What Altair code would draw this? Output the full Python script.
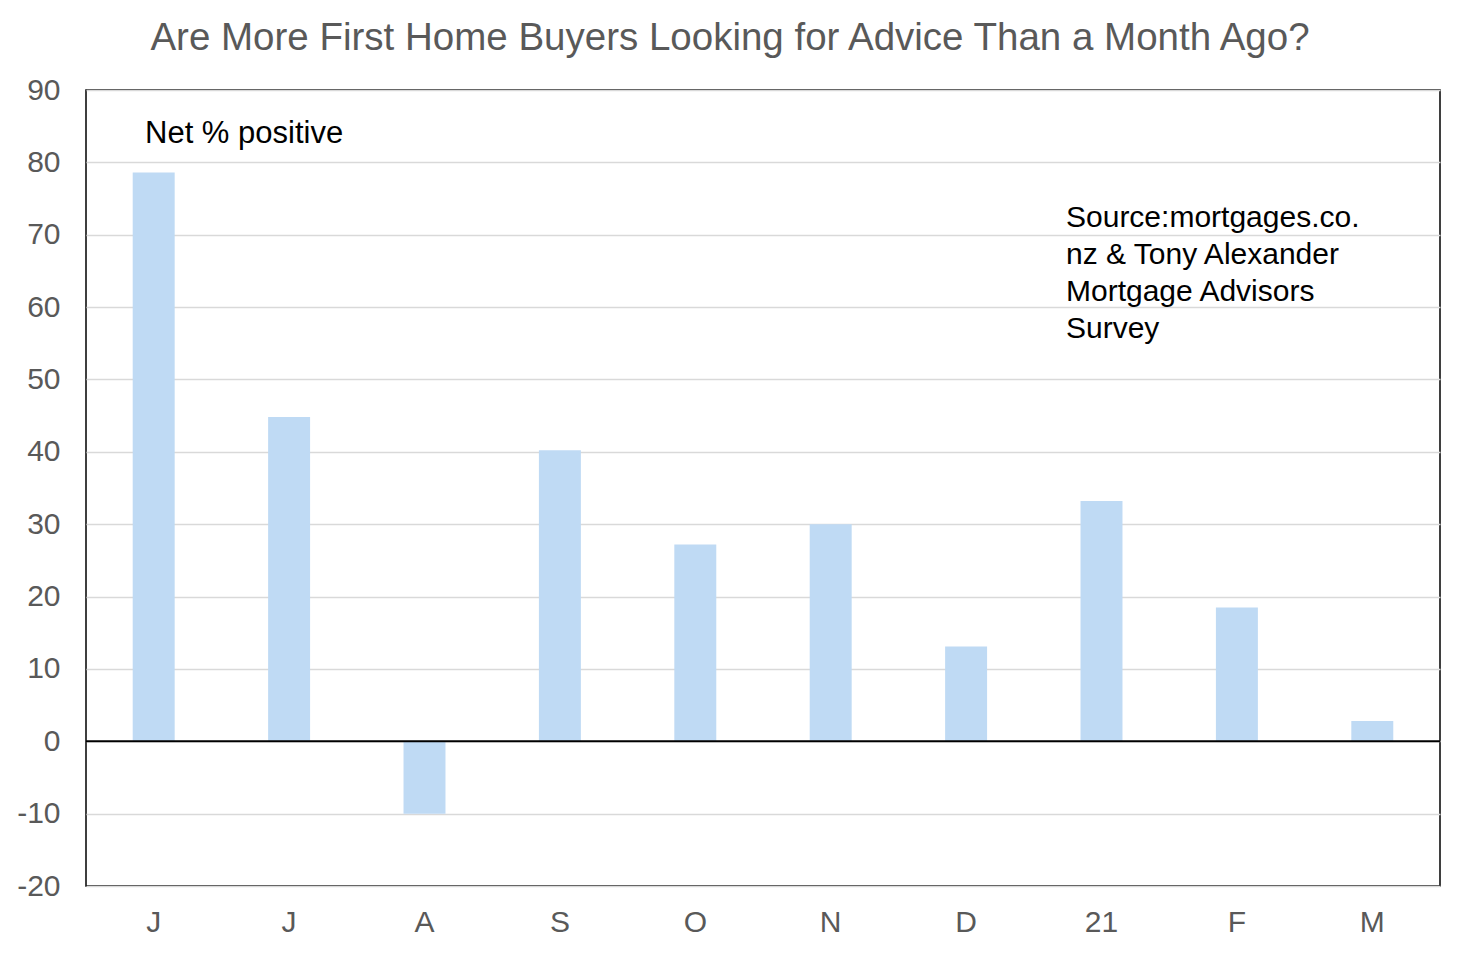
import altair as alt
import pandas as pd

months = ["J", "J", "A", "S", "O", "N", "D", "21", "F", "M"]
values = [78.6, 44.8, -10.0, 40.2, 27.2, 30.0, 13.1, 33.2, 18.5, 2.8]
keys = [str(i) for i in range(len(months))]
y_ticks = list(range(-20, 91, 10))

title_text = "Are More First Home Buyers Looking for Advice Than a Month Ago?"
note_text = "Net % positive"
source_lines = ["Source:mortgages.co.", "nz & Tony Alexander", "Mortgage Advisors", "Survey"]

df = pd.DataFrame({"key": keys, "month": months, "value": values})
label_expr = "[" + ",".join(f"'{m}'" for m in months) + "][toNumber(datum.value)]"

FONT = "Liberation Sans"
GREY = "#595959"

x_enc = alt.X(
    "key:N",
    sort=keys,
    scale=alt.Scale(paddingInner=0.69, paddingOuter=0.345),
    axis=alt.Axis(
        title=None, labelExpr=label_expr, labelAngle=0, tickSize=0, domain=False,
        labelFontSize=30, labelColor=GREY, labelFont=FONT, labelPadding=21,
    ),
)
y_enc = alt.Y(
    "value:Q",
    scale=alt.Scale(domain=[-20, 90], nice=False, zero=False),
    axis=alt.Axis(
        title=None, values=y_ticks, grid=True, gridColor="#d9d9d9", gridWidth=1.3,
        tickSize=0, domain=False, labelFontSize=30, labelColor=GREY, labelFont=FONT,
        labelPadding=26, labelExpr="datum.value + ''",
    ),
)

bars = alt.Chart(df).mark_bar(color="#bfdaf4").encode(x=x_enc, y=y_enc)

zero = alt.Chart(pd.DataFrame({"z": [0]})).mark_rule(color="black", strokeWidth=2).encode(
    y=alt.Y("z:Q")
)

note = alt.Chart(pd.DataFrame({"t": [note_text]})).mark_text(
    align="left", baseline="alphabetic", fontSize=31, font=FONT, color="black"
).encode(x=alt.value(59), y=alt.value(53), text="t:N")

source = alt.Chart(pd.DataFrame({"t": [source_lines]})).mark_text(
    align="left", baseline="alphabetic", fontSize=30, font=FONT, color="black", lineHeight=37
).encode(x=alt.value(980), y=alt.value(137), text="t")

chart = (
    alt.layer(bars, zero, note, source)
    .properties(
        width=1354,
        height=796,
        autosize=alt.AutoSizeParams(type="none"),
        padding={"left": 78, "top": 82, "right": 14, "bottom": 60},
        title=alt.TitleParams(
            title_text, fontSize=38.5, font=FONT, color=GREY, fontWeight="normal",
            anchor="middle", dx=-33, offset=17,
        ),
    )
    .configure_view(stroke="black", strokeWidth=1.5)
)

chart.save("out.html", embed_options={"renderer": "svg", "actions": False})
